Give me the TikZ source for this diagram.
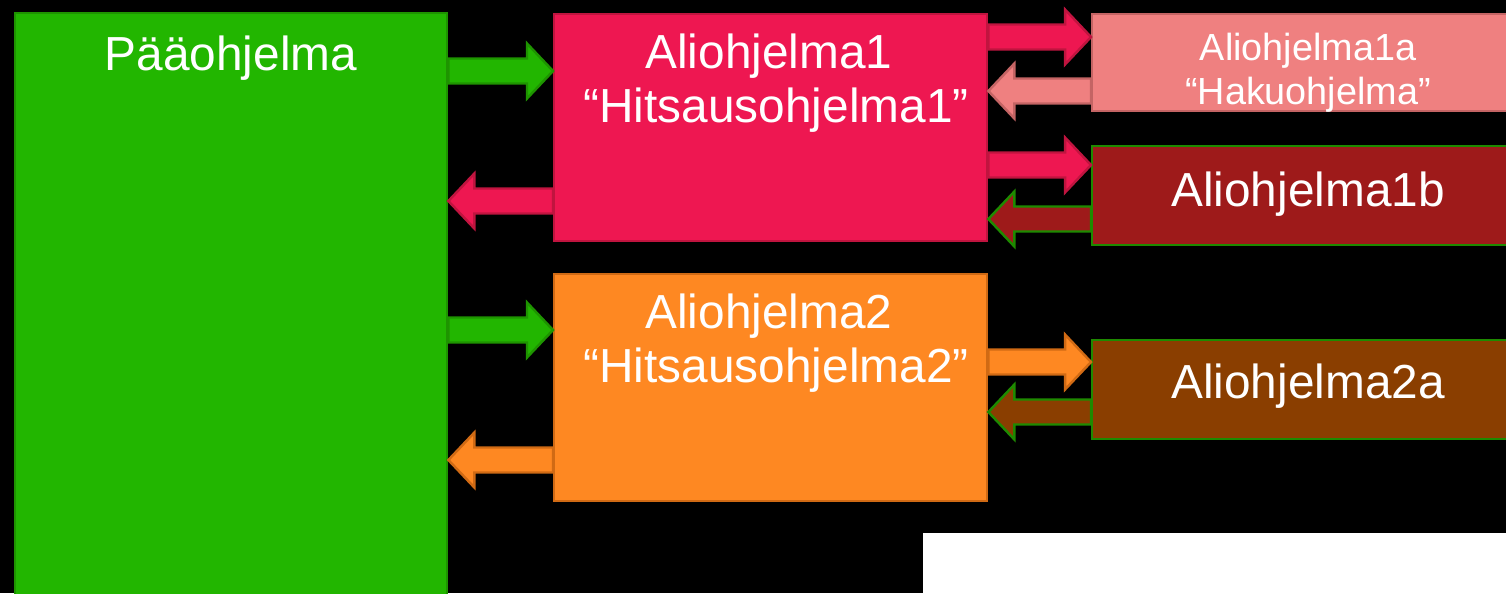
\documentclass[tikz,border=0pt]{standalone}
\usepackage{fontspec}
\setmainfont{Liberation Sans}
\usetikzlibrary{calc}

\definecolor{mainfill}{HTML}{22B600}
\definecolor{mainline}{HTML}{1E9400}
\definecolor{pinkfill}{HTML}{EE1751}
\definecolor{pinkline}{HTML}{C0143F}
\definecolor{orangefill}{HTML}{FE8822}
\definecolor{orangeline}{HTML}{D06A14}
\definecolor{salmonfill}{HTML}{EF8080}
\definecolor{salmonline}{HTML}{C46464}
\definecolor{redfill}{HTML}{9E1A1A}
\definecolor{brownfill}{HTML}{8A3E00}
\definecolor{edgegreen}{HTML}{1E8A00}

% horizontal block arrow from tail point #2 to tip point #3
\newcommand\blockarrow[3]{%
  \draw[#1] let \p1=(#2), \p2=(#3), \p3=($(#3)!0.52cm!(#2)$) in
    (\x1,\y1+0.25cm) -- (\x3,\y1+0.25cm) -- (\x3,\y1+0.55cm) -- (\x2,\y1)
    -- (\x3,\y1-0.55cm) -- (\x3,\y1-0.25cm) -- (\x1,\y1-0.25cm) -- cycle;}

\tikzset{
  box/.style={draw, line width=1.4pt, anchor=north west, inner sep=0pt},
  bigtext/.style={text=white, anchor=base, inner sep=0pt,
    font=\fontsize{27.2}{31}\selectfont},
  smalltext/.style={text=white, anchor=base, inner sep=0pt,
    font=\fontsize{21.5}{25}\selectfont},
  arrowlook/.style={line width=1.4pt, line join=miter},
}

\begin{document}
\begin{tikzpicture}[x=0.02cm, y=-0.02cm]
\useasboundingbox (0,0) rectangle (1506,593);
\clip (0,0) rectangle (1506,593);
\fill[black] (0,0) rectangle (1506,593);

% program blocks
\node[box, fill=mainfill, draw=mainline, minimum width=8.64cm, minimum height=12.3cm] (main) at (14,12) {};
\node[box, fill=pinkfill, draw=pinkline, minimum width=8.66cm, minimum height=4.54cm] (a1) at (553,13) {};
\node[box, fill=orangefill, draw=orangeline, minimum width=8.66cm, minimum height=4.54cm] (a2) at (553,273) {};
\node[box, fill=salmonfill, draw=salmonline, minimum width=8.8cm, minimum height=1.94cm] (a1a) at (1091,13) {};
\node[box, fill=redfill, draw=edgegreen, minimum width=8.8cm, minimum height=1.98cm] (a1b) at (1091,145) {};
\node[box, fill=brownfill, draw=edgegreen, minimum width=8.8cm, minimum height=1.98cm] (a2a) at (1091,339) {};

% labels
\node[bigtext] (tmain) at (231,70) {Pääohjelma};
\node[bigtext] (ta1) at (769,68) {Aliohjelma1};
\node[bigtext] (ta1q) at (776,122) {“Hitsausohjelma1”};
\node[bigtext] (ta2) at (769,328) {Aliohjelma2};
\node[bigtext] (ta2q) at (776,382) {“Hitsausohjelma2”};
\node[smalltext] (ta1a) at (1308,60) {Aliohjelma1a};
\node[smalltext] (ta1aq) at (1308,104) {“Hakuohjelma”};
\node[bigtext] (ta1b) at (1308,206) {Aliohjelma1b};
\node[bigtext] (ta2a) at (1308,398) {Aliohjelma2a};

% calls and returns
\blockarrow{arrowlook, fill=mainfill, draw=mainline}{main.east |- 0,71}{a1.west |- 0,71}
\blockarrow{arrowlook, fill=pinkfill, draw=pinkline}{a1.west |- 0,201}{main.east |- 0,201}
\blockarrow{arrowlook, fill=mainfill, draw=mainline}{main.east |- 0,330}{a2.west |- 0,330}
\blockarrow{arrowlook, fill=orangefill, draw=orangeline}{a2.west |- 0,460}{main.east |- 0,460}

\blockarrow{arrowlook, fill=pinkfill, draw=pinkline}{a1.east |- 0,37}{a1a.west |- 0,37}
\blockarrow{arrowlook, fill=salmonfill, draw=salmonline}{a1a.west |- 0,91}{a1.east |- 0,91}
\blockarrow{arrowlook, fill=pinkfill, draw=pinkline}{a1.east |- 0,165}{a1b.west |- 0,165}
\blockarrow{arrowlook, fill=redfill, draw=edgegreen}{a1b.west |- 0,219}{a1.east |- 0,219}
\blockarrow{arrowlook, fill=orangefill, draw=orangeline}{a2.east |- 0,362}{a2a.west |- 0,362}
\blockarrow{arrowlook, fill=brownfill, draw=edgegreen}{a2a.west |- 0,412}{a2.east |- 0,412}

% blank panel in the lower right
\fill[white] (923,533) rectangle (1506,593);
\end{tikzpicture}
\end{document}
